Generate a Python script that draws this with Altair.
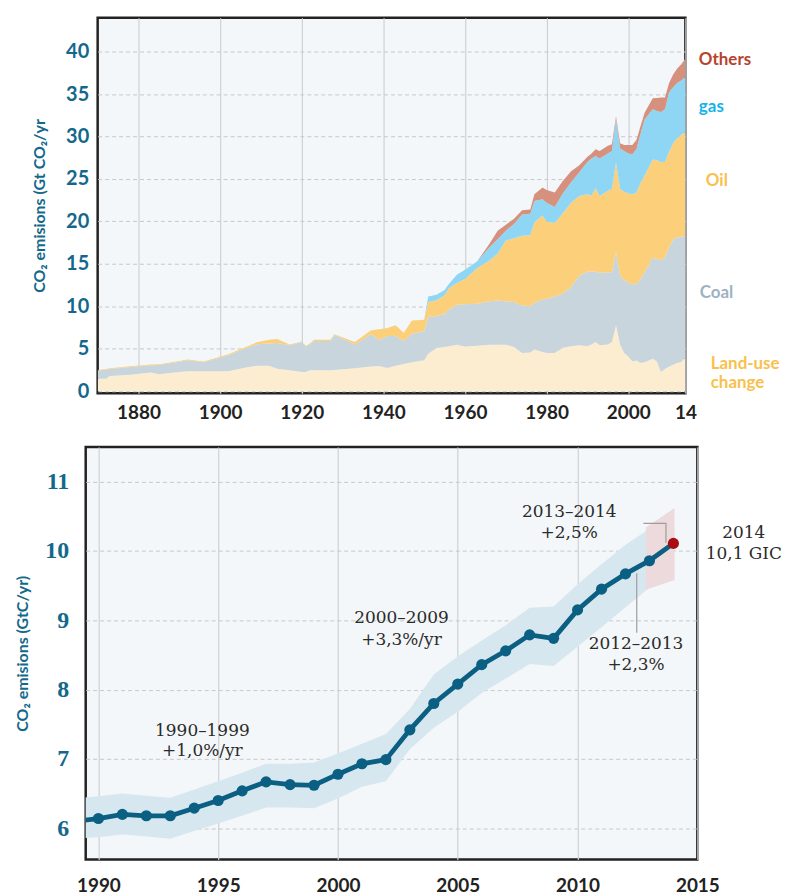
import altair as alt
import pandas as pd

# ---------------- top panel data (Gt CO2 / yr, per source) ----------------
years = [1870, 1872, 1873, 1878, 1883, 1885, 1890, 1892, 1896, 1902, 1906, 1909,
         1912, 1914, 1917, 1920, 1921, 1922, 1923, 1927, 1928, 1933, 1937, 1939,
         1941, 1943, 1945, 1947, 1950, 1951, 1953, 1955, 1956, 1958, 1960, 1963,
         1966, 1968, 1970, 1972, 1974, 1976, 1977, 1979, 1980, 1982, 1984, 1986,
         1988, 1990, 1991, 1992, 1993, 1995, 1996, 1997, 1998, 1999, 2000, 2001,
         2002, 2003, 2004, 2006, 2007, 2008, 2009, 2010, 2011, 2012, 2013, 2014]
land_use = [1.47, 1.47, 1.78, 1.94, 2.18, 1.98, 2.25, 2.33, 2.33, 2.33, 2.76, 3.00,
            3.00, 2.65, 2.45, 2.26, 2.26, 2.45, 2.45, 2.45, 2.50, 2.70, 2.90, 2.96,
            2.72, 3.00, 3.20, 3.40, 3.63, 4.40, 5.08, 5.20, 5.30, 5.47, 5.25, 5.35,
            5.47, 5.47, 5.47, 5.20, 4.50, 4.55, 4.90, 4.60, 4.49, 4.49, 5.12, 5.30,
            5.39, 5.30, 5.50, 5.78, 5.40, 5.50, 5.78, 7.75, 5.50, 4.50, 4.10, 3.50,
            3.60, 3.30, 3.40, 3.80, 3.50, 2.26, 2.60, 2.90, 3.10, 3.30, 3.43, 4.00]
coal = [0.94, 1.08, 0.84, 0.90, 0.86, 1.10, 1.20, 1.30, 1.07, 1.89, 2.24, 2.51,
        2.60, 3.02, 2.94, 3.52, 3.02, 3.02, 3.45, 3.45, 4.15, 2.80, 3.79, 3.10,
        3.77, 3.49, 2.70, 3.36, 3.45, 4.33, 3.77, 3.90, 4.30, 4.71, 5.00, 4.95,
        5.13, 5.21, 5.13, 5.29, 5.60, 5.45, 5.50, 6.20, 6.39, 6.66, 6.38, 7.00,
        8.21, 8.80, 8.55, 8.32, 8.54, 8.50, 8.24, 8.63, 8.10, 8.60, 8.70, 9.10,
        9.00, 9.90, 10.60, 11.90, 12.10, 13.14, 13.20, 14.00, 14.80, 14.80, 14.77, 14.30]
oil = [0.08, 0.07, 0.08, 0.08, 0.10, 0.08, 0.10, 0.09, 0.10, 0.13, 0.15, 0.24,
       0.45, 0.47, 0.11, 0.08, 0.07, 0.13, 0.16, 0.16, 0.04, 0.28, 0.47, 1.24,
       0.94, 1.26, 0.98, 1.57, 1.33, 1.76, 1.85, 2.20, 2.50, 2.57, 2.95, 4.20,
       4.80, 5.52, 7.14, 7.51, 8.20, 8.40, 9.50, 9.90, 9.12, 8.65, 9.50, 9.90,
       9.40, 9.10, 8.99, 9.80, 9.06, 9.60, 9.78, 10.58, 10.20, 10.40, 10.50, 10.60,
       10.80, 11.30, 11.40, 11.60, 11.60, 11.60, 11.20, 11.30, 11.30, 11.70, 12.00, 12.20]
gas = [0, 0, 0, 0, 0, 0, 0, 0, 0, 0, 0, 0,
       0, 0, 0, 0, 0, 0, 0, 0, 0, 0, 0, 0,
       0, 0, 0, 0, 0, 0.66, 0.65, 0.60, 0.50, 0.95, 1.10, 0.80,
       1.56, 1.70, 1.16, 1.70, 2.50, 2.50, 2.50, 1.90, 2.20, 1.90, 2.30, 2.40,
       2.80, 3.80, 4.36, 3.80, 4.40, 4.40, 4.50, 5.10, 4.80, 4.80, 4.70, 4.70,
       5.10, 5.80, 6.60, 5.90, 5.80, 5.90, 6.20, 7.00, 6.60, 6.50, 6.40, 6.50]
others = [0, 0, 0, 0, 0, 0, 0, 0, 0, 0, 0, 0,
          0, 0, 0, 0, 0, 0, 0, 0, 0, 0, 0, 0,
          0, 0, 0, 0, 0, 0, 0, 0, 0, 0, 0, 0,
          0.39, 1.00, 0.70, 0.60, 0.50, 0.50, 0.80, 1.40, 1.50, 1.70, 1.50, 1.30,
          0.80, 0.60, 0.60, 0.80, 0.90, 0.90, 0.80, 0.34, 0.60, 0.70, 1.00, 1.10,
          1.10, 0.90, 0.80, 1.30, 1.55, 1.70, 1.40, 1.10, 1.50, 1.70, 1.90, 2.20]

layer_names = ["Land-use change", "Coal", "Oil", "gas", "Others"]
layer_fill = ["#fdedd0", "#c9d5dd", "#fcd07b", "#8fd6f5", "#d5917e"]
top_x_ticks = [1880, 1900, 1920, 1940, 1960, 1980, 2000, 2014]
top_y_ticks = [0, 5, 10, 15, 20, 25, 30, 35, 40]

# legend labels beside the top panel (text, colour, anchor in data units)
top_labels = ["Others", "gas", "Oil", "Coal", "Land-use", "change"]
top_label_colors = ["#b5432d", "#15b3e8", "#f8c14d", "#9db2c1", "#f8c14d", "#f8c14d"]
top_label_x = [2017.3, 2017.3, 2019.0, 2017.5, 2020.2, 2020.2]
top_label_y = [39.0, 33.5, 24.8, 11.6, 3.2, 0.95]

# ---------------- bottom panel data (GtC / yr) ----------------
years_b = list(range(1989, 2015))
emissions = [6.10, 6.14, 6.20, 6.18, 6.18, 6.29, 6.40, 6.54, 6.67, 6.63, 6.62, 6.78, 6.93,
             6.99, 7.42, 7.80, 8.08, 8.36, 8.56, 8.79, 8.74, 9.15, 9.45, 9.67, 9.86, 10.11]
band_years = list(range(1989, 2014))
band_lower = [5.85, 5.87, 5.91, 5.88, 5.85, 5.96, 6.07, 6.18, 6.30, 6.30, 6.29, 6.43, 6.60,
              6.68, 7.14, 7.45, 7.68, 7.95, 8.16, 8.37, 8.34, 8.62, 8.90, 9.19, 9.47]
band_upper = [6.43, 6.46, 6.50, 6.47, 6.44, 6.56, 6.68, 6.80, 6.93, 6.93, 6.95, 7.08, 7.22,
              7.36, 7.72, 8.22, 8.48, 8.71, 8.93, 9.18, 9.20, 9.52, 9.81, 10.09, 10.32]
proj_years = [2012.85, 2014.05]
proj_lower = [9.44, 9.58]
proj_upper = [10.34, 10.62]
bottom_x_ticks = [1990, 1995, 2000, 2005, 2010, 2015]
bottom_y_ticks = [6, 7, 8, 9, 10, 11]

notes = ["1990\u20131999", "+1,0%/yr", "2000\u20132009", "+3,3%/yr", "2013\u20132014", "+2,5%",
         "2012\u20132013", "+2,3%", "2014", "10,1 GIC"]
notes_x = [1994.34, 1994.34, 2002.65, 2002.65, 2009.65, 2009.65, 2012.44, 2012.44, 2016.94, 2016.94]
notes_y = [7.41, 7.11, 9.03, 8.72, 10.56, 10.26, 8.66, 8.36, 10.26, 9.95]

leader_id = ["a", "a", "a", "b", "b"]
leader_x = [2012.75, 2013.69, 2013.69, 2012.47, 2012.47]
leader_y = [10.40, 10.40, 10.12, 9.68, 8.82]

# ---------------- styles ----------------
TEAL = "#13688b"
LINE = "#0b5f82"
SANS = "Lato"
SERIF = "DejaVu Serif"

# ---------------- top chart ----------------
rows = []
for i, (name, vals) in enumerate(zip(layer_names, [land_use, coal, oil, gas, others])):
    for yr, v in zip(years, vals):
        rows.append({"year": yr, "layer": name, "value": v, "order": i})
df_top = pd.DataFrame(rows)
df_top_labels = pd.DataFrame({"year": top_label_x, "value": top_label_y,
                              "label": top_labels, "col": top_label_colors})

x_top = alt.X("year:Q",
              scale=alt.Scale(domain=[1870, 2014], nice=False, zero=False),
              axis=alt.Axis(values=top_x_ticks, format="d",
                            labelExpr="datum.value == 2014 ? '14' : datum.label",
                            title=None, grid=True, gridColor="#cfd2d5", gridWidth=1.2,
                            ticks=False, domain=False, labelFont=SANS, labelFontSize=19,
                            labelFontWeight="bold", labelColor="#222", labelPadding=10,
                            labelFlush=False))
y_top = alt.Y("value:Q", stack="zero",
              scale=alt.Scale(domain=[-0.25, 44], nice=False, zero=False),
              axis=alt.Axis(values=top_y_ticks, title="CO\u2082 emisions (Gt CO\u2082/yr",
                            grid=True, gridDash=[4, 3], gridColor="#c5c9cc", gridWidth=1,
                            ticks=False, domain=False, labelFont=SANS, labelFontSize=20,
                            labelFontWeight="bold", labelColor=TEAL, labelPadding=9,
                            titleFont=SANS, titleFontSize=16, titleFontWeight="bold",
                            titleColor=TEAL, titlePadding=18))

areas = alt.Chart(df_top).mark_area(opacity=1, clip=True).encode(
    x=x_top,
    y=y_top,
    color=alt.Color("layer:N", scale=alt.Scale(domain=layer_names, range=layer_fill), legend=None),
    order=alt.Order("order:Q", sort="ascending"),
)
top_text = alt.Chart(df_top_labels).mark_text(
    align="left", baseline="middle", font=SANS, fontSize=17, fontWeight="bold"
).encode(
    x=alt.X("year:Q"),
    y=alt.Y("value:Q", stack=None),
    text="label:N",
    color=alt.Color("col:N", scale=None),
)
top = alt.layer(areas, top_text).resolve_scale(color="independent").properties(width=590, height=377)

# ---------------- bottom chart ----------------
df_line = pd.DataFrame({"year": years_b, "value": emissions})
df_band = pd.DataFrame({"year": band_years, "value": band_lower, "upper": band_upper})
df_proj = pd.DataFrame({"year": proj_years, "value": proj_lower, "upper": proj_upper})
df_notes = pd.DataFrame({"year": notes_x, "value": notes_y, "label": notes})
df_lead = pd.DataFrame({"year": leader_x, "value": leader_y, "id": leader_id,
                        "k": list(range(len(leader_x)))})

xs_b = alt.Scale(domain=[1989.47, 2015], nice=False, zero=False)
ys_b = alt.Scale(domain=[5.55, 11.5], nice=False, zero=False)
x_bot = alt.X("year:Q", scale=xs_b,
              axis=alt.Axis(values=bottom_x_ticks, format="d", title=None, grid=True,
                            gridColor="#cfd2d5", gridWidth=1.2, ticks=False, domain=False,
                            labelFont=SANS, labelFontSize=19, labelFontWeight="bold",
                            labelColor="#222", labelPadding=17, labelFlush=False))
y_bot = alt.Y("value:Q", scale=ys_b,
              axis=alt.Axis(values=bottom_y_ticks, title="CO\u2082 emisions (GtC/yr)",
                            grid=True, gridDash=[4, 3], gridColor="#c5c9cc", gridWidth=1,
                            ticks=False, domain=False, labelFont="Liberation Serif",
                            labelFontSize=24, labelFontWeight="bold", labelColor=TEAL,
                            labelPadding=17, titleFont=SANS, titleFontSize=16,
                            titleFontWeight="bold", titleColor=TEAL, titlePadding=14))

band = alt.Chart(df_band).mark_area(color="#d6e7ef", opacity=1, clip=True).encode(
    x=x_bot, y=y_bot, y2="upper:Q")
proj = alt.Chart(df_proj).mark_area(color="#ecdadd", opacity=1, clip=True).encode(
    x=x_bot, y=y_bot, y2="upper:Q")
leaders = alt.Chart(df_lead).mark_line(color="#9d9d9d", strokeWidth=1.2).encode(
    x=x_bot, y=y_bot, detail="id:N", order="k:Q")
line = alt.Chart(df_line).mark_line(color=LINE, strokeWidth=4.8, clip=True).encode(
    x=x_bot, y=y_bot)
dots = alt.Chart(df_line).transform_filter("datum.year >= 1990").mark_circle(
    size=125, opacity=1).encode(
    x=x_bot, y=y_bot,
    color=alt.condition("datum.year == 2014", alt.value("#a80d14"), alt.value(LINE)))
note_text = alt.Chart(df_notes).mark_text(
    font=SERIF, fontSize=17, color="#2b2b2b", align="center", baseline="middle"
).encode(x=x_bot, y=y_bot, text="label:N")

bottom = alt.layer(band, proj, leaders, line, dots, note_text).properties(width=614, height=414)

chart = alt.vconcat(top, bottom, spacing=54, center=True, bounds="flush").properties(
    padding={"left": 5, "top": 6, "right": 5, "bottom": 5},
    background="white",
).configure_view(
    fill="#f4f7f9", stroke="#222", strokeWidth=2.5
)

chart.save("out.html", embed_options={"renderer": "svg", "actions": False})
